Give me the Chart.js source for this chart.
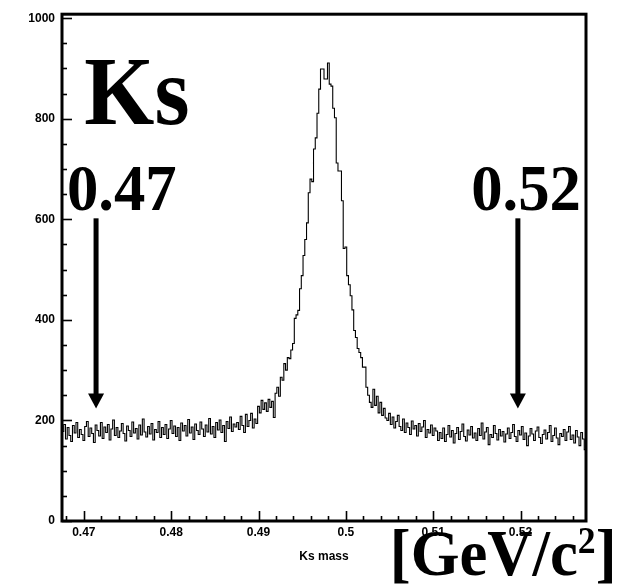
<!DOCTYPE html>
<html>
<head>
<meta charset="utf-8">
<script src="https://cdn.jsdelivr.net/npm/chart.js@4/dist/chart.umd.min.js"></script>
<style>
  html, body { margin: 0; padding: 0; background: #ffffff; }
  #wrap { width: 625px; height: 585px; }
</style>
</head>
<body>
<div id="wrap"><canvas id="c" width="625" height="585"></canvas></div>
<script>
// ---- data (histogram of Ks invariant mass, 300 bins) ----
const binLow = 0.4675;
const binWidth = 0.0002;
const counts = [
  178, 192, 163, 186, 170, 158, 190, 175, 196, 166, 182, 172, 160, 188, 198, 168, 185, 174, 156, 191,
  180, 169, 196, 164, 187, 176, 192, 161, 183, 201, 170, 186, 166, 179, 194, 174, 159, 189, 180, 168,
  197, 175, 184, 163, 191, 171, 203, 177, 167, 188, 173, 194, 161, 182, 176, 198, 166, 186, 172, 192,
  164, 183, 200, 174, 189, 168, 186, 160, 195, 179, 190, 169, 202, 175, 187, 162, 193, 180, 172, 197,
  183, 168, 191, 177, 204, 173, 188, 166, 196, 181, 201, 176, 190, 158, 198, 184, 207, 178, 193, 187,
  196, 182, 208, 190, 176, 212, 188, 200, 214, 185, 203, 194,
  228, 215, 240, 222, 235, 218, 242, 226, 238, 206,
  254, 266, 248, 286, 280, 313, 300, 325, 323, 340, 353, 403, 410, 419,
  462, 488, 528, 560, 593, 653, 680, 675, 740, 762, 811, 859,
  899, 899, 879, 879, 911, 869, 865, 821, 802, 712, 696, 696,
  637, 542, 545, 488, 470, 448, 420, 379, 365, 343, 335, 325,
  306, 306, 266, 250, 236, 226, 262, 230, 248, 215, 236, 210, 224, 205,
  200, 214, 192, 207, 185, 198, 210, 188, 180, 203, 176, 195, 186, 172, 199, 183, 190, 169, 194, 178,
  187, 200, 166, 182, 175, 191, 170, 185, 179, 160,
  176, 164, 185, 158, 172, 190, 167, 180, 155, 174, 186, 162, 178, 193, 168, 159, 181, 171, 188, 165,
  175, 160, 184, 170, 195, 163, 177, 186, 152, 172, 166, 190, 174, 161, 182, 169, 178, 157, 173, 185,
  164, 176, 192, 168, 158, 180, 171, 188, 162, 175, 150, 169, 184, 173, 160, 179, 187, 166, 154, 172,
  181, 163, 176, 190, 158, 170, 185, 165, 152, 174, 168, 182, 160, 177, 188, 162, 171, 155, 180, 167, 150, 176, 163, 142
];
const xMin = 0.4675, xMax = 0.5275;
const yMin = 0, yMax = 1008;
const xTickValues = [0.47, 0.48, 0.49, 0.50, 0.51, 0.52];
const xTickLabels = ['0.47', '0.48', '0.49', '0.5', '0.51', '0.52'];
const yTickValues = [0, 200, 400, 600, 800, 1000];
const yTickLabels = ['0', '200', '400', '600', '800', '1000'];
const xAxisTitle = 'Ks mass';
const cutValues = [0.4714, 0.5197];        // arrow positions (mass)
const cutLabels = ['0.47', '0.52'];
const arrowFrom = 602, arrowTo = 224;       // arrow span in counts
const particleLabel = 'Ks';
const unitMain = '[GeV/c', unitSup = '2', unitClose = ']';

// build histogram outline points (bin low edges + final upper edge)
const points = counts.map((v, i) => ({ x: binLow + i * binWidth, y: v }));
points.push({ x: binLow + counts.length * binWidth, y: counts[counts.length - 1] });

const serif = '"Liberation Serif", "Times New Roman", serif';
const sans = '"Liberation Sans", Arial, Helvetica, sans-serif';

function scaledText(ctx, text, px, py, font, sx) {
  ctx.save();
  ctx.font = font;
  ctx.translate(px, py);
  ctx.scale(sx, 1);
  ctx.textAlign = 'left';
  ctx.textBaseline = 'alphabetic';
  ctx.fillText(text, 0, 0);
  ctx.restore();
}

const rootFrame = {
  id: 'rootFrame',
  afterDraw(chart) {
    const { ctx, chartArea: a, scales: { x, y } } = chart;
    ctx.save();
    ctx.strokeStyle = '#000';
    ctx.fillStyle = '#000';
    // y ticks (inside)
    ctx.lineWidth = 1.6;
    for (let k = 0; k * 50 <= 1000; k++) {
      const v = k * 50;
      const py = Math.round(y.getPixelForValue(v)) + 0.5;
      const len = (v % 200 === 0) ? 10 : 5;
      ctx.beginPath(); ctx.moveTo(a.left, py); ctx.lineTo(a.left + len, py); ctx.stroke();
    }
    // x ticks (inside)
    for (let k = 0; ; k++) {
      const v = 0.468 + k * 0.002;
      if (v > xMax + 1e-9) break;
      const px = Math.round(x.getPixelForValue(v)) + 0.5;
      const isMajor = Math.abs(Math.round(v * 100) - v * 100) < 1e-6;
      const len = isMajor ? 10 : 5;
      ctx.beginPath(); ctx.moveTo(px, a.bottom); ctx.lineTo(px, a.bottom - len); ctx.stroke();
    }
    // frame
    ctx.lineWidth = 3;
    ctx.strokeRect(a.left, a.top, a.right - a.left, a.bottom - a.top);

    // arrows
    cutValues.forEach(cv => {
      const px = x.getPixelForValue(cv);
      const top = y.getPixelForValue(arrowFrom);
      const tip = y.getPixelForValue(arrowTo);
      ctx.fillRect(px - 2.5, top, 5, tip - top - 14);
      ctx.beginPath();
      ctx.moveTo(px - 8, tip - 15);
      ctx.lineTo(px + 8, tip - 15);
      ctx.lineTo(px, tip);
      ctx.closePath();
      ctx.fill();
    });

    // big labels
    scaledText(ctx, particleLabel, x.getPixelForValue(0.47005), y.getPixelForValue(789), 'bold 98px ' + serif, 0.92);
    scaledText(ctx, cutLabels[0], x.getPixelForValue(0.46807), y.getPixelForValue(618), 'bold 66px ' + serif, 0.95);
    scaledText(ctx, cutLabels[1], x.getPixelForValue(0.51435), y.getPixelForValue(618), 'bold 66px ' + serif, 0.95);

    // unit label below axis
    const ux = x.getPixelForValue(0.50503);
    const uy = a.bottom + 54;
    ctx.save();
    ctx.translate(ux, uy);
    ctx.scale(0.965, 1);
    ctx.textAlign = 'left';
    ctx.textBaseline = 'alphabetic';
    ctx.font = 'bold 65px ' + serif;
    ctx.fillText(unitMain, 0, 0);
    const w1 = ctx.measureText(unitMain).width;
    ctx.font = 'bold 37px ' + serif;
    ctx.fillText(unitSup, w1, -22);
    const w2 = ctx.measureText(unitSup).width;
    ctx.font = 'bold 65px ' + serif;
    ctx.fillText(unitClose, w1 + w2, 0);
    ctx.restore();
    ctx.restore();
  }
};

new Chart(document.getElementById('c'), {
  type: 'line',
  data: {
    datasets: [{
      data: points,
      stepped: true,
      borderColor: '#000',
      borderWidth: 1.1,
      pointRadius: 0,
      fill: false,
      tension: 0
    }]
  },
  options: {
    responsive: false,
    animation: false,
    events: [],
    layout: { padding: { left: 0, right: 39, top: 14, bottom: 0 } },
    plugins: { legend: { display: false }, tooltip: { enabled: false } },
    scales: {
      x: {
        type: 'linear',
        min: xMin, max: xMax,
        afterBuildTicks: s => { s.ticks = xTickValues.map(v => ({ value: v })); },
        afterFit: s => { s.height = 64; },
        ticks: {
          autoSkip: false, maxRotation: 0, padding: 4, color: '#000',
          font: { family: sans, size: 12, weight: 'bold' },
          callback: v => xTickLabels[xTickValues.findIndex(t => Math.abs(t - v) < 1e-9)]
        },
        grid: { display: false, drawTicks: false },
        border: { display: false },
        title: {
          display: true, text: xAxisTitle, color: '#000',
          font: { family: sans, size: 12, weight: 'bold' },
          padding: { top: 0, bottom: 21 }
        }
      },
      y: {
        type: 'linear',
        min: yMin, max: yMax,
        afterBuildTicks: s => { s.ticks = yTickValues.map(v => ({ value: v })); },
        afterFit: s => { s.width = 62; },
        ticks: {
          padding: 7, color: '#000',
          font: { family: sans, size: 12, weight: 'bold' },
          callback: v => yTickLabels[yTickValues.indexOf(v)]
        },
        grid: { display: false, drawTicks: false },
        border: { display: false }
      }
    }
  },
  plugins: [rootFrame]
});
</script>
</body>
</html>
